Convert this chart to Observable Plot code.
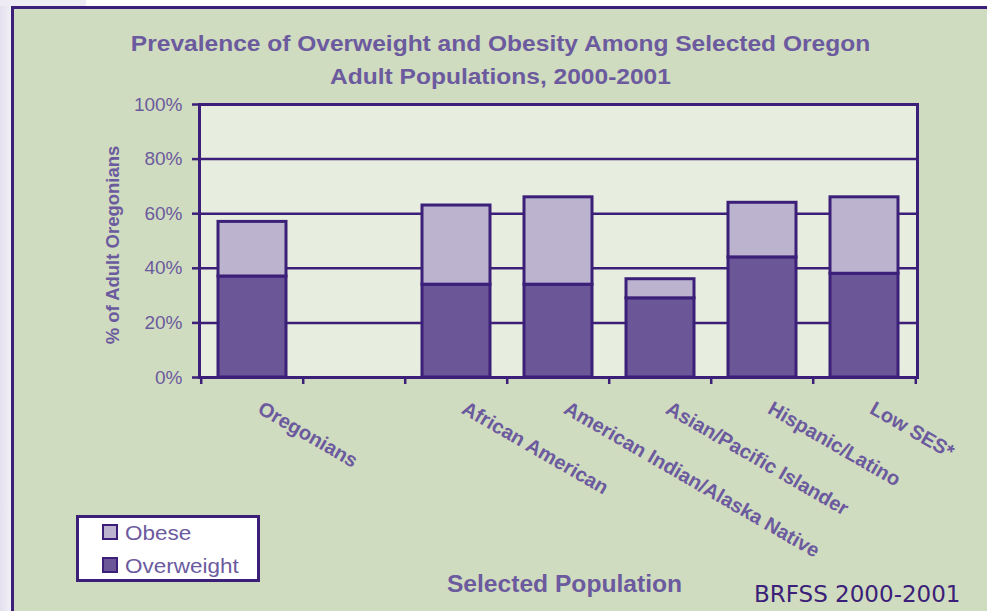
<!DOCTYPE html>
<html>
<head>
<meta charset="utf-8">
<script src="https://cdn.jsdelivr.net/npm/d3@7"></script>
<script src="https://cdn.jsdelivr.net/npm/@observablehq/plot@0.6"></script>
<style>
  html, body { margin: 0; padding: 0; }
  body {
    width: 987px; height: 611px; overflow: hidden; position: relative;
    background: linear-gradient(to right, #e4e0ee 0px, #f1eff6 11px, #ffffff 11px);
    font-family: "Liberation Sans", Arial, sans-serif;
  }
  #topstrip { position: absolute; left: 0; top: 0; width: 86px; height: 6px; background: #eeebf4; }
  #panel {
    position: absolute; left: 11px; top: 6px; width: 990px; height: 620px;
    background: #d0dcbf; border-left: 3px solid #3b1f78; border-top: 3px solid #3b1f78;
    box-sizing: border-box;
  }
  #chart { position: absolute; left: 0; top: 0; }
  .t { position: absolute; white-space: nowrap; line-height: 1; }
  #title1, #title2 { left: 0; width: 1001px; text-align: center; font-weight: bold; font-size: 22px; color: #6b5a9e;
    transform: scaleX(1.115); transform-origin: 500.5px 50%; }
  #title1 { top: 33px; }
  #title2 { top: 65.5px; }
  #xlabel { left: 0; width: 1129px; text-align: center; top: 573px; font-weight: bold; font-size: 23px; color: #6b5a9e;
    transform: scaleX(1.07); transform-origin: 564.5px 50%; }
  #source { left: 754px; top: 582.5px; font-family: "Comic Sans MS", "DejaVu Sans", sans-serif; font-size: 23px; color: #3b1f78; }
  #legend {
    position: absolute; left: 76px; top: 515px; width: 184px; height: 67px;
    background: #ffffff; border: 3px solid #3b1f78; box-sizing: border-box;
  }
  .sw { position: absolute; width: 16px; height: 16px; border: 2.5px solid #3b1f78; box-sizing: border-box; }
  .lt { position: absolute; font-size: 21px; color: #6b5a9e; line-height: 1; white-space: nowrap;
    transform: scaleX(1.07); transform-origin: 0 50%; }
</style>
</head>
<body>
<div id="topstrip"></div>
<div id="panel"></div>
<div id="chart"></div>
<div class="t" id="title1"></div>
<div class="t" id="title2"></div>
<div class="t" id="xlabel"></div>
<div class="t" id="source"></div>
<div id="legend"></div>
<script>
// ---- data ----
const titleLines = ["Prevalence of Overweight and Obesity Among Selected Oregon", "Adult Populations, 2000-2001"];
const yLabel = "% of Adult Oregonians";
const xLabel = "Selected Population";
const sourceText = "BRFSS 2000-2001";
const categories = ["Oregonians", " ", "African American", "American Indian/Alaska Native", "Asian/Pacific Islander", "Hispanic/Latino", "Low SES*"];
const overweight = [37, null, 34, 34, 29, 44, 38];
const obese      = [20, null, 29, 32,  7, 20, 28];
const series = ["Overweight", "Obese"];
const legendOrder = ["Obese", "Overweight"];
const seriesColors = ["#6b5797", "#bcb4cf"];
const yTicks = [0, 20, 40, 60, 80, 100];
const gridTicks = [20, 40, 60, 80];

// ---- build table ----
const rows = [];
categories.forEach((c, i) => {
  if (overweight[i] != null) rows.push({category: c, type: "Overweight", value: overweight[i]});
  if (obese[i] != null) rows.push({category: c, type: "Obese", value: obese[i]});
});

const W = 987, H = 611;
const mL = 199, mR = 70, mT = 104, mB = 234;
const bw = (W - mL - mR) / categories.length;
const dark = "#3b1f78";
const textColor = "#6b5a9e";

const plot = Plot.plot({
  width: W, height: H,
  marginLeft: mL, marginRight: mR, marginTop: mT, marginBottom: mB,
  style: {background: "transparent", fontFamily: "'Liberation Sans', Arial, sans-serif", overflow: "visible"},
  x: {domain: categories, padding: 0, axis: null},
  y: {domain: [0, 100]},
  color: {domain: series, range: seriesColors},
  marks: [
    Plot.frame({fill: "#e8eedf", stroke: null}),
    Plot.ruleY(gridTicks, {stroke: dark, strokeWidth: 2.5}),
    Plot.barY(rows, Plot.stackY({x: "category", y: "value", fill: "type", order: series,
      stroke: dark, strokeWidth: 3, insetLeft: 17, insetRight: 17})),
    Plot.frame({stroke: dark, strokeWidth: 3}),
    Plot.axisY({ticks: yTicks, tickFormat: d => d + "%", tickSize: 7, tickPadding: 10,
      stroke: dark, strokeWidth: 2.5, fill: textColor, fontSize: 19, label: null}),
    Plot.ruleX(categories, {x: d => d, dx: -bw / 2, stroke: dark, strokeWidth: 2.5, insetTop: H - mT - mB, insetBottom: -7}),
    Plot.ruleX(categories.slice(-1), {x: d => d, dx: bw / 2, stroke: dark, strokeWidth: 2.5, insetTop: H - mT - mB, insetBottom: -7}),
    Plot.text(categories, {x: d => d, frameAnchor: "bottom", text: d => d, rotate: 30, textAnchor: "start",
      dx: 4, dy: 35, fill: textColor, fontWeight: "bold", fontSize: 20}),
    Plot.text([yLabel], {frameAnchor: "left", text: d => d, rotate: -90, textAnchor: "middle", dx: -86, dy: 4,
      fill: textColor, fontWeight: "bold", fontSize: 18.5})
  ]
});
document.getElementById("chart").appendChild(plot);

document.getElementById("title1").textContent = titleLines[0];
document.getElementById("title2").textContent = titleLines[1];
document.getElementById("xlabel").textContent = xLabel;
document.getElementById("source").textContent = sourceText;

const legend = document.getElementById("legend");
legendOrder.forEach((s, i) => {
  const sw = document.createElement("div");
  sw.className = "sw";
  sw.style.left = "23px";
  sw.style.top = (6 + i * 33) + "px";
  sw.style.background = seriesColors[series.indexOf(s)];
  legend.appendChild(sw);
  const lt = document.createElement("div");
  lt.className = "lt";
  lt.style.left = "46px";
  lt.style.top = (4 + i * 33) + "px";
  lt.textContent = s;
  legend.appendChild(lt);
});
</script>
</body>
</html>
